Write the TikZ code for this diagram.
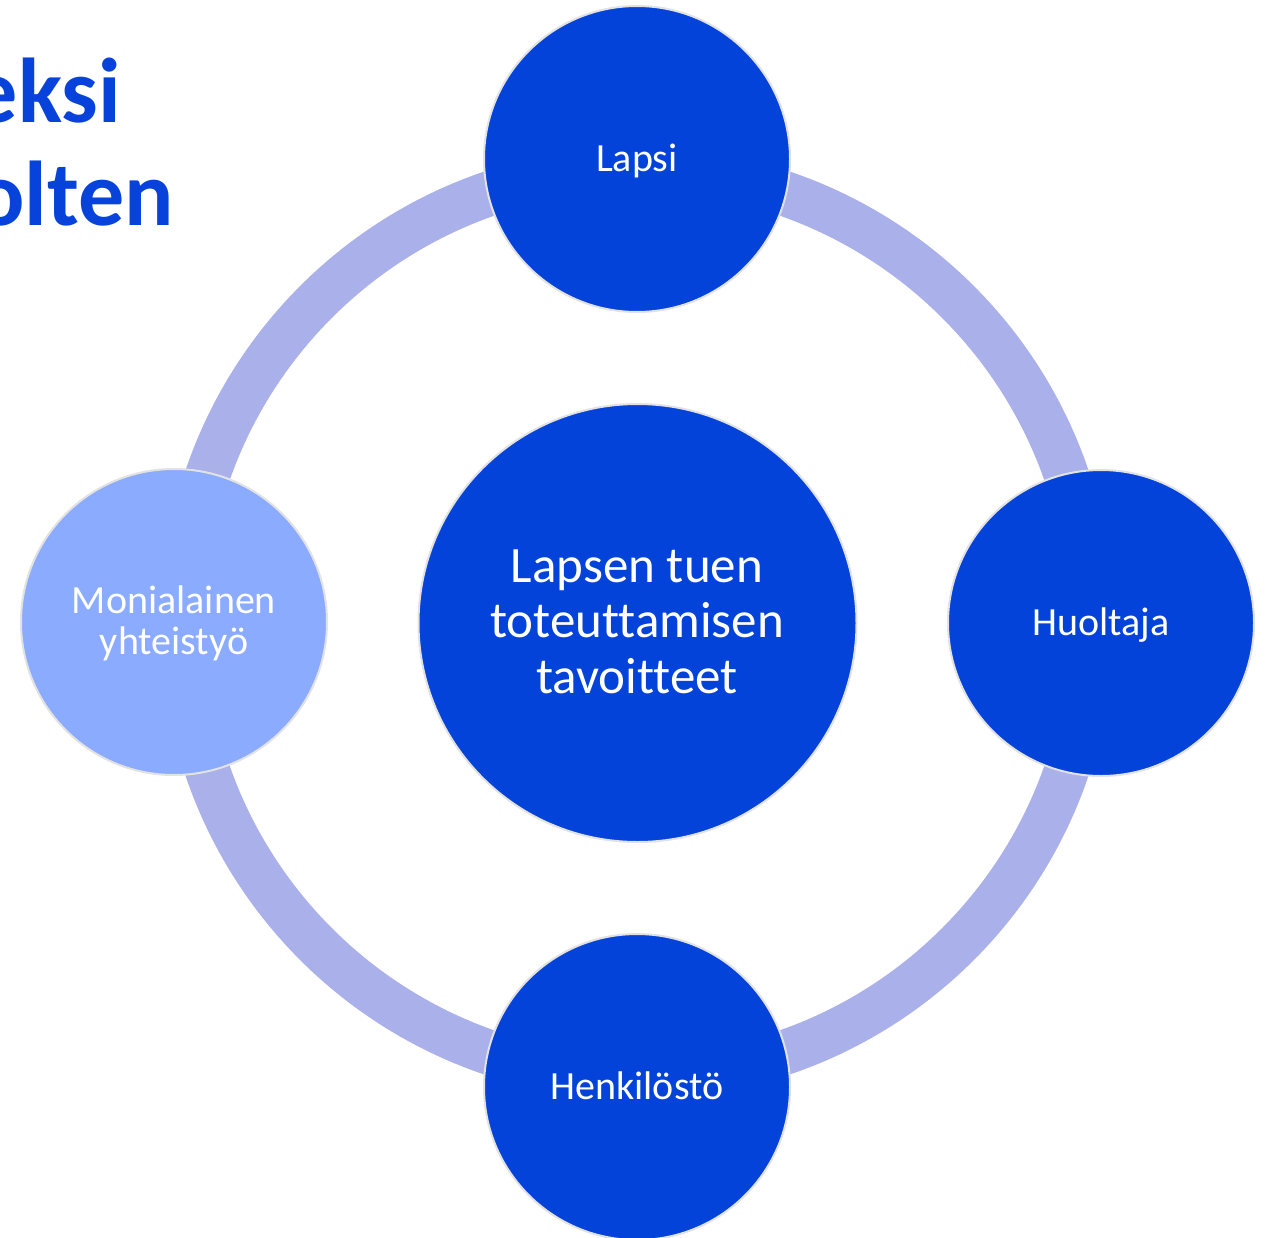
\documentclass[tikz,border=0pt]{standalone}
\usepackage{fontspec}
\setmainfont[Ligatures=NoCommon]{Carlito}
\definecolor{dblue}{HTML}{0343DA}
\definecolor{lblue}{HTML}{8AABFF}
\definecolor{ringc}{HTML}{AAB0EA}
\definecolor{edgec}{HTML}{E2E2E2}
\definecolor{titlec}{HTML}{0743DA}
\begin{document}
\begin{tikzpicture}[x=1pt,y=-1pt,
  bubble/.style={circle, draw=edgec, line width=2pt, fill=dblue, inner sep=0pt, minimum size=306pt},
  bigbubble/.style={bubble, minimum size=438pt},
  lbl/.style={text=white, align=center, inner sep=0pt, font=\fontsize{40}{41}\selectfont},
  biglbl/.style={text=white, align=center, inner sep=0pt, font=\fontsize{51}{55.5}\selectfont},
  titletxt/.style={text=titlec, inner sep=0pt, font=\fontsize{92}{103}\selectfont\bfseries}]
\clip (0,0) rectangle (1269,1237);
\fill[white] (0,0) rectangle (1269,1237);
% title fragments
\node[titletxt, anchor=base east] (t1) at (121,122) {eksi};
\node[titletxt, anchor=base east] (t2) at (174,225) {olten};
% ring
\coordinate (ctr) at (637,623);
\draw[ringc, line width=45pt] (ctr) circle[radius=454pt];
% circles
\node[bigbubble] (center) at (637.5,623) {};
\node[bubble] (lapsi) at (637,159) {};
\node[bubble] (huoltaja) at (1101,623) {};
\node[bubble] (henk) at (637,1087) {};
\node[bubble, fill=lblue] (moni) at (174,622) {};
% labels (base = baseline of last line)
\node[biglbl, anchor=base] (tcenter) at (637,693) {Lapsen tuen\\toteuttamisen\\tavoitteet};
\node[lbl, anchor=base] (tlapsi) at (637,171) {Lapsi};
\node[lbl, anchor=base] (thuol) at (1101,635) {Huoltaja};
\node[lbl, anchor=base] (thenk) at (637,1099) {Henkilöstö};
\node[lbl, anchor=base] (tmoni) at (174,654) {Monialainen\\yhteistyö};
\end{tikzpicture}
\end{document}
